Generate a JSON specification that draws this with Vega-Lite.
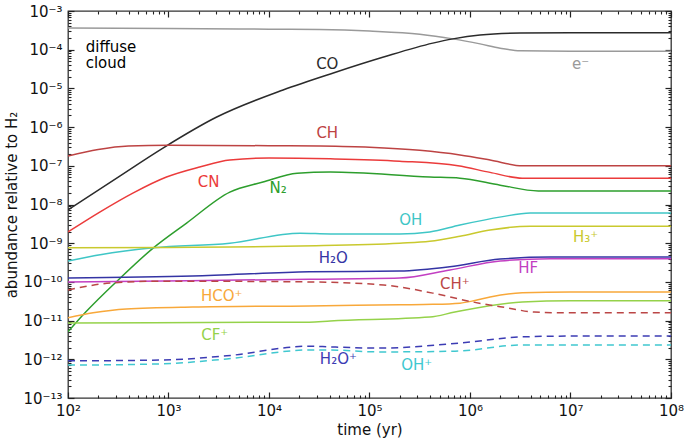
{
  "$schema": "https://vega.github.io/schema/vega-lite/v6.json",
  "width": 603,
  "height": 387,
  "autosize": {"type": "none"},
  "padding": {"left": 68, "top": 11, "right": 14, "bottom": 45},
  "background": "white",
  "config": {
    "view": {"stroke": "#333333", "strokeWidth": 1.3},
    "font": "DejaVu Sans",
    "axis": {
      "labelFont": "DejaVu Sans",
      "titleFont": "DejaVu Sans",
      "labelFontSize": 15,
      "titleFontSize": 15,
      "titleFontWeight": "normal",
      "labelColor": "#111",
      "titleColor": "#111",
      "domain": false,
      "grid": false,
      "labelOverlap": false,
      "labelFlush": false,
      "labelBound": false
    }
  },
  "datasets": {
    "curves": [
      {"s": "e-", "t": 100, "v": 3.63e-4},
      {"s": "e-", "t": 1000, "v": 3.55e-4},
      {"s": "e-", "t": 10000, "v": 3.39e-4},
      {"s": "e-", "t": 31620, "v": 3.31e-4},
      {"s": "e-", "t": 100000, "v": 3.02e-4},
      {"s": "e-", "t": 316200, "v": 2.51e-4},
      {"s": "e-", "t": 676100, "v": 1.905e-4},
      {"s": "e-", "t": 1259000, "v": 1.413e-4},
      {"s": "e-", "t": 1995000, "v": 1.096e-4},
      {"s": "e-", "t": 3162000, "v": 9.33e-5},
      {"s": "e-", "t": 10000000, "v": 9.12e-5},
      {"s": "e-", "t": 100000000, "v": 9.12e-5},

      {"s": "CO", "t": 100, "v": 7.24e-9},
      {"s": "CO", "t": 316.2, "v": 5.13e-8},
      {"s": "CO", "t": 881, "v": 2.88e-7},
      {"s": "CO", "t": 3020, "v": 1.82e-6},
      {"s": "CO", "t": 13800, "v": 9.12e-6},
      {"s": "CO", "t": 43650, "v": 2.51e-5},
      {"s": "CO", "t": 138000, "v": 6.46e-5},
      {"s": "CO", "t": 426600, "v": 1.479e-4},
      {"s": "CO", "t": 676100, "v": 1.905e-4},
      {"s": "CO", "t": 1259000, "v": 2.40e-4},
      {"s": "CO", "t": 3162000, "v": 2.69e-4},
      {"s": "CO", "t": 10000000, "v": 2.75e-4},
      {"s": "CO", "t": 100000000, "v": 2.75e-4},

      {"s": "CH", "t": 100, "v": 1.778e-7},
      {"s": "CH", "t": 199.5, "v": 2.63e-7},
      {"s": "CH", "t": 398.1, "v": 3.24e-7},
      {"s": "CH", "t": 1000, "v": 3.39e-7},
      {"s": "CH", "t": 10000, "v": 3.31e-7},
      {"s": "CH", "t": 31620, "v": 3.24e-7},
      {"s": "CH", "t": 100000, "v": 3.02e-7},
      {"s": "CH", "t": 316200, "v": 2.51e-7},
      {"s": "CH", "t": 794300, "v": 1.905e-7},
      {"s": "CH", "t": 1585000, "v": 1.413e-7},
      {"s": "CH", "t": 3311000, "v": 1.0e-7},
      {"s": "CH", "t": 10000000, "v": 1.0e-7},
      {"s": "CH", "t": 100000000, "v": 1.0e-7},

      {"s": "CN", "t": 100, "v": 1.95e-9},
      {"s": "CN", "t": 208.9, "v": 6.46e-9},
      {"s": "CN", "t": 446.7, "v": 2.0e-8},
      {"s": "CN", "t": 955, "v": 5.13e-8},
      {"s": "CN", "t": 2042, "v": 9.33e-8},
      {"s": "CN", "t": 4074, "v": 1.413e-7},
      {"s": "CN", "t": 10000, "v": 1.585e-7},
      {"s": "CN", "t": 40740, "v": 1.514e-7},
      {"s": "CN", "t": 199500, "v": 1.318e-7},
      {"s": "CN", "t": 758600, "v": 1.0e-7},
      {"s": "CN", "t": 1585000, "v": 6.76e-8},
      {"s": "CN", "t": 3311000, "v": 4.79e-8},
      {"s": "CN", "t": 10000000, "v": 4.79e-8},
      {"s": "CN", "t": 100000000, "v": 4.79e-8},

      {"s": "N2", "t": 100, "v": 5.13e-12},
      {"s": "N2", "t": 147.6, "v": 1.585e-11},
      {"s": "N2", "t": 316.2, "v": 1.122e-10},
      {"s": "N2", "t": 707.9, "v": 7.59e-10},
      {"s": "N2", "t": 1514, "v": 3.31e-9},
      {"s": "N2", "t": 4074, "v": 2.09e-8},
      {"s": "N2", "t": 8710, "v": 3.80e-8},
      {"s": "N2", "t": 19050, "v": 6.46e-8},
      {"s": "N2", "t": 40740, "v": 6.92e-8},
      {"s": "N2", "t": 398100, "v": 5.13e-8},
      {"s": "N2", "t": 794300, "v": 4.79e-8},
      {"s": "N2", "t": 1995000, "v": 3.16e-8},
      {"s": "N2", "t": 4786000, "v": 2.24e-8},
      {"s": "N2", "t": 100000000, "v": 2.24e-8},

      {"s": "OH", "t": 100, "v": 3.47e-10},
      {"s": "OH", "t": 208.9, "v": 5.01e-10},
      {"s": "OH", "t": 707.9, "v": 7.59e-10},
      {"s": "OH", "t": 4074, "v": 1.0e-9},
      {"s": "OH", "t": 20420, "v": 1.82e-9},
      {"s": "OH", "t": 40740, "v": 1.74e-9},
      {"s": "OH", "t": 199500, "v": 1.74e-9},
      {"s": "OH", "t": 398100, "v": 1.95e-9},
      {"s": "OH", "t": 794300, "v": 2.95e-9},
      {"s": "OH", "t": 2042000, "v": 4.79e-9},
      {"s": "OH", "t": 3981000, "v": 6.03e-9},
      {"s": "OH", "t": 100000000, "v": 6.03e-9},

      {"s": "H3+", "t": 100, "v": 7.59e-10},
      {"s": "H3+", "t": 1000, "v": 7.76e-10},
      {"s": "H3+", "t": 4074, "v": 7.94e-10},
      {"s": "H3+", "t": 20420, "v": 8.51e-10},
      {"s": "H3+", "t": 199500, "v": 1.0e-9},
      {"s": "H3+", "t": 398100, "v": 1.122e-9},
      {"s": "H3+", "t": 794300, "v": 1.514e-9},
      {"s": "H3+", "t": 1585000, "v": 2.19e-9},
      {"s": "H3+", "t": 3981000, "v": 2.75e-9},
      {"s": "H3+", "t": 100000000, "v": 2.75e-9},

      {"s": "H2O", "t": 100, "v": 1.259e-10},
      {"s": "H2O", "t": 1738, "v": 1.413e-10},
      {"s": "H2O", "t": 25120, "v": 1.82e-10},
      {"s": "H2O", "t": 199500, "v": 1.905e-10},
      {"s": "H2O", "t": 631000, "v": 2.455e-10},
      {"s": "H2O", "t": 1995000, "v": 3.89e-10},
      {"s": "H2O", "t": 6310000, "v": 4.37e-10},
      {"s": "H2O", "t": 100000000, "v": 4.37e-10},

      {"s": "HF", "t": 100, "v": 1.0e-10},
      {"s": "HF", "t": 1585, "v": 1.072e-10},
      {"s": "HF", "t": 25120, "v": 1.175e-10},
      {"s": "HF", "t": 199500, "v": 1.259e-10},
      {"s": "HF", "t": 631000, "v": 2.04e-10},
      {"s": "HF", "t": 1995000, "v": 3.47e-10},
      {"s": "HF", "t": 6310000, "v": 3.98e-10},
      {"s": "HF", "t": 100000000, "v": 3.98e-10},

      {"s": "CH+", "t": 100, "v": 6.17e-11},
      {"s": "CH+", "t": 263, "v": 9.33e-11},
      {"s": "CH+", "t": 812.8, "v": 1.047e-10},
      {"s": "CH+", "t": 25120, "v": 1.0e-10},
      {"s": "CH+", "t": 138000, "v": 8.32e-11},
      {"s": "CH+", "t": 426600, "v": 5.13e-11},
      {"s": "CH+", "t": 1072000, "v": 3.02e-11},
      {"s": "CH+", "t": 2344000, "v": 2.14e-11},
      {"s": "CH+", "t": 4365000, "v": 1.66e-11},
      {"s": "CH+", "t": 10000000, "v": 1.585e-11},
      {"s": "CH+", "t": 100000000, "v": 1.585e-11},

      {"s": "HCO+", "t": 100, "v": 1.175e-11},
      {"s": "HCO+", "t": 177.8, "v": 1.585e-11},
      {"s": "HCO+", "t": 380.2, "v": 1.995e-11},
      {"s": "HCO+", "t": 1738, "v": 2.24e-11},
      {"s": "HCO+", "t": 25120, "v": 2.40e-11},
      {"s": "HCO+", "t": 199500, "v": 2.57e-11},
      {"s": "HCO+", "t": 426600, "v": 2.63e-11},
      {"s": "HCO+", "t": 794300, "v": 2.82e-11},
      {"s": "HCO+", "t": 1122000, "v": 3.31e-11},
      {"s": "HCO+", "t": 1585000, "v": 4.07e-11},
      {"s": "HCO+", "t": 3311000, "v": 5.25e-11},
      {"s": "HCO+", "t": 10000000, "v": 5.5e-11},
      {"s": "HCO+", "t": 100000000, "v": 5.5e-11},

      {"s": "CF+", "t": 100, "v": 8.71e-12},
      {"s": "CF+", "t": 25120, "v": 9.12e-12},
      {"s": "CF+", "t": 40740, "v": 9.77e-12},
      {"s": "CF+", "t": 398100, "v": 1.23e-11},
      {"s": "CF+", "t": 707900, "v": 1.66e-11},
      {"s": "CF+", "t": 3311000, "v": 3.02e-11},
      {"s": "CF+", "t": 10000000, "v": 3.24e-11},
      {"s": "CF+", "t": 100000000, "v": 3.24e-11},

      {"s": "H2O+", "t": 100, "v": 9.12e-13},
      {"s": "H2O+", "t": 812.8, "v": 9.55e-13},
      {"s": "H2O+", "t": 3802, "v": 1.23e-12},
      {"s": "H2O+", "t": 25120, "v": 2.19e-12},
      {"s": "H2O+", "t": 40740, "v": 2.09e-12},
      {"s": "H2O+", "t": 125900, "v": 1.95e-12},
      {"s": "H2O+", "t": 794300, "v": 2.63e-12},
      {"s": "H2O+", "t": 3311000, "v": 3.80e-12},
      {"s": "H2O+", "t": 10000000, "v": 3.98e-12},
      {"s": "H2O+", "t": 100000000, "v": 3.98e-12},

      {"s": "OH+", "t": 100, "v": 7.08e-13},
      {"s": "OH+", "t": 812.8, "v": 7.59e-13},
      {"s": "OH+", "t": 3802, "v": 1.023e-12},
      {"s": "OH+", "t": 25120, "v": 1.74e-12},
      {"s": "OH+", "t": 40740, "v": 1.74e-12},
      {"s": "OH+", "t": 125900, "v": 1.55e-12},
      {"s": "OH+", "t": 707900, "v": 1.62e-12},
      {"s": "OH+", "t": 3311000, "v": 2.34e-12},
      {"s": "OH+", "t": 100000000, "v": 2.34e-12}
    ],
    "labels": [
      {"s": "CO", "label": "CO", "t": 38000, "v": 4.27e-5},
      {"s": "e-", "label": "e⁻", "t": 12600000, "v": 4.27e-5},
      {"s": "CH", "label": "CH", "t": 38000, "v": 7.08e-7},
      {"s": "CN", "label": "CN", "t": 2512, "v": 3.8e-8},
      {"s": "N2", "label": "N₂", "t": 12300, "v": 2.69e-8},
      {"s": "OH", "label": "OH", "t": 257000, "v": 3.98e-9},
      {"s": "H2O", "label": "H₂O", "t": 43650, "v": 4.17e-10},
      {"s": "H3+", "label": "H₃⁺", "t": 14100000, "v": 1.445e-9},
      {"s": "HF", "label": "HF", "t": 3800000, "v": 2.29e-10},
      {"s": "CH+", "label": "CH⁺", "t": 708000, "v": 8.9e-11},
      {"s": "HCO+", "label": "HCO⁺", "t": 3388, "v": 4.37e-11},
      {"s": "CF+", "label": "CF⁺", "t": 2884, "v": 4.27e-12},
      {"s": "H2O+", "label": "H₂O⁺", "t": 49000, "v": 1.02e-12},
      {"s": "OH+", "label": "OH⁺", "t": 295000, "v": 7.08e-13}
    ],
    "notes": [
      {"s": "note", "label": "diffuse\ncloud", "t": 150, "v": 1.02e-4}
    ]
  },
  "layer": [
    {
      "data": {"name": "curves"},
      "transform": [{"filter": {"not": {"field": "s", "oneOf": ["CH+", "H2O+", "OH+"]}}}],
      "mark": {"type": "line", "strokeWidth": 1.5, "interpolate": "monotone", "clip": true},
      "encoding": {
        "x": {
          "field": "t", "type": "quantitative",
          "scale": {"type": "log", "domain": [100, 100000000], "nice": false},
          "axis": {
            "orient": "bottom",
            "ticks": true, "tickSize": 6, "tickColor": "#222222", "tickWidth": 1.2, "tickOpacity": 1,
            "offset": -6,
            "title": "time (yr)",
            "titlePadding": 4,
            "labelPadding": 5,
            "values": [100, 1000, 10000, 100000, 1000000, 10000000, 100000000],
            "labelExpr": "'10' + ['⁰','¹','²','³','⁴','⁵','⁶','⁷','⁸','⁹'][round(log(datum.value)/LN10)]"
          }
        },
        "y": {
          "field": "v", "type": "quantitative",
          "scale": {"type": "log", "domain": [1e-13, 1e-3], "nice": false},
          "axis": {
            "orient": "left",
            "ticks": true, "tickSize": 6, "tickColor": "#222222", "tickWidth": 1.2, "tickOpacity": 1,
            "offset": -6,
            "title": "abundance relative to H₂",
            "titlePadding": 3,
            "labelPadding": 6,
            "values": [1e-13, 1e-12, 1e-11, 1e-10, 1e-9, 1e-8, 1e-7, 1e-6, 1e-5, 1e-4, 1e-3],
            "labelExpr": "'10⁻' + (round(-log(datum.value)/LN10) >= 10 ? '¹' + ['⁰','¹','²','³','⁴','⁵','⁶','⁷','⁸','⁹'][round(-log(datum.value)/LN10) - 10] : ['⁰','¹','²','³','⁴','⁵','⁶','⁷','⁸','⁹'][round(-log(datum.value)/LN10)])"
          }
        },
        "color": {
          "field": "s", "type": "nominal", "legend": null,
          "scale": {
            "domain": ["note", "e-", "CO", "CH", "CN", "N2", "OH", "H3+", "H2O", "HF", "CH+", "HCO+", "CF+", "H2O+", "OH+"],
            "range": ["#000000", "#9a9a9a", "#2b2b2b", "#bd4343", "#eb3b3b", "#2d9e2d", "#3fc6c6", "#c9c92e", "#3434a4", "#c23fc2", "#bb4646", "#f8a83a", "#95d24a", "#3c3cb4", "#40c8d0"]
          }
        }
      }
    },
    {
      "data": {"name": "curves"},
      "transform": [{"filter": {"field": "s", "oneOf": ["CH+", "H2O+", "OH+"]}}],
      "mark": {"type": "line", "strokeWidth": 1.5, "strokeDash": [7, 5], "interpolate": "monotone", "clip": true},
      "encoding": {
        "x": {
          "field": "t", "type": "quantitative",
          "axis": {
            "orient": "top", "offset": -6, "title": null, "labels": false,
            "ticks": true, "tickSize": 6, "tickColor": "#222222", "tickWidth": 1.2, "tickOpacity": 1,
            "values": [100, 1000, 10000, 100000, 1000000, 10000000, 100000000]
          }
        },
        "y": {
          "field": "v", "type": "quantitative",
          "axis": {
            "orient": "right", "offset": -6, "title": null, "labels": false,
            "ticks": true, "tickSize": 6, "tickColor": "#222222", "tickWidth": 1.2, "tickOpacity": 1,
            "values": [1e-13, 1e-12, 1e-11, 1e-10, 1e-9, 1e-8, 1e-7, 1e-6, 1e-5, 1e-4, 1e-3]
          }
        },
        "color": {"field": "s", "type": "nominal", "legend": null}
      }
    },
    {
      "data": {"name": "labels"},
      "mark": {"type": "text", "font": "DejaVu Sans", "fontSize": 15, "align": "center", "baseline": "middle"},
      "encoding": {
        "x": {
          "field": "t", "type": "quantitative",
          "axis": {
            "orient": "bottom", "offset": -3, "title": null, "labels": false,
            "ticks": true, "tickSize": 3, "tickColor": "#222222", "tickWidth": 1.1, "tickOpacity": 1,
            "values": [200,300,400,500,600,700,800,900,2000,3000,4000,5000,6000,7000,8000,9000,20000,30000,40000,50000,60000,70000,80000,90000,200000,300000,400000,500000,600000,700000,800000,900000,2000000,3000000,4000000,5000000,6000000,7000000,8000000,9000000,20000000,30000000,40000000,50000000,60000000,70000000,80000000,90000000]
          }
        },
        "y": {
          "field": "v", "type": "quantitative",
          "axis": {
            "orient": "left", "offset": -3, "title": null, "labels": false,
            "ticks": true, "tickSize": 3, "tickColor": "#222222", "tickWidth": 1.1, "tickOpacity": 1,
            "values": [2e-13,3e-13,4e-13,5e-13,6e-13,7e-13,8e-13,9e-13,2e-12,3e-12,4e-12,5e-12,6e-12,7e-12,8e-12,9e-12,2e-11,3e-11,4e-11,5e-11,6e-11,7e-11,8e-11,9e-11,2e-10,3e-10,4e-10,5e-10,6e-10,7e-10,8e-10,9e-10,2e-9,3e-9,4e-9,5e-9,6e-9,7e-9,8e-9,9e-9,2e-8,3e-8,4e-8,5e-8,6e-8,7e-8,8e-8,9e-8,2e-7,3e-7,4e-7,5e-7,6e-7,7e-7,8e-7,9e-7,2e-6,3e-6,4e-6,5e-6,6e-6,7e-6,8e-6,9e-6,2e-5,3e-5,4e-5,5e-5,6e-5,7e-5,8e-5,9e-5,2e-4,3e-4,4e-4,5e-4,6e-4,7e-4,8e-4,9e-4]
          }
        },
        "text": {"field": "label"},
        "color": {"field": "s", "type": "nominal", "legend": null}
      }
    },
    {
      "data": {"name": "notes"},
      "mark": {"type": "text", "font": "DejaVu Sans", "fontSize": 15, "align": "left", "baseline": "top", "lineBreak": "\n", "lineHeight": 16, "dy": -9},
      "encoding": {
        "x": {
          "field": "t", "type": "quantitative",
          "axis": {
            "orient": "top", "offset": -3, "title": null, "labels": false,
            "ticks": true, "tickSize": 3, "tickColor": "#222222", "tickWidth": 1.1, "tickOpacity": 1,
            "values": [200,300,400,500,600,700,800,900,2000,3000,4000,5000,6000,7000,8000,9000,20000,30000,40000,50000,60000,70000,80000,90000,200000,300000,400000,500000,600000,700000,800000,900000,2000000,3000000,4000000,5000000,6000000,7000000,8000000,9000000,20000000,30000000,40000000,50000000,60000000,70000000,80000000,90000000]
          }
        },
        "y": {
          "field": "v", "type": "quantitative",
          "axis": {
            "orient": "right", "offset": -3, "title": null, "labels": false,
            "ticks": true, "tickSize": 3, "tickColor": "#222222", "tickWidth": 1.1, "tickOpacity": 1,
            "values": [2e-13,3e-13,4e-13,5e-13,6e-13,7e-13,8e-13,9e-13,2e-12,3e-12,4e-12,5e-12,6e-12,7e-12,8e-12,9e-12,2e-11,3e-11,4e-11,5e-11,6e-11,7e-11,8e-11,9e-11,2e-10,3e-10,4e-10,5e-10,6e-10,7e-10,8e-10,9e-10,2e-9,3e-9,4e-9,5e-9,6e-9,7e-9,8e-9,9e-9,2e-8,3e-8,4e-8,5e-8,6e-8,7e-8,8e-8,9e-8,2e-7,3e-7,4e-7,5e-7,6e-7,7e-7,8e-7,9e-7,2e-6,3e-6,4e-6,5e-6,6e-6,7e-6,8e-6,9e-6,2e-5,3e-5,4e-5,5e-5,6e-5,7e-5,8e-5,9e-5,2e-4,3e-4,4e-4,5e-4,6e-4,7e-4,8e-4,9e-4]
          }
        },
        "text": {"field": "label"},
        "color": {"field": "s", "type": "nominal", "legend": null}
      }
    }
  ],
  "resolve": {"axis": {"x": "independent", "y": "independent"}}
}
